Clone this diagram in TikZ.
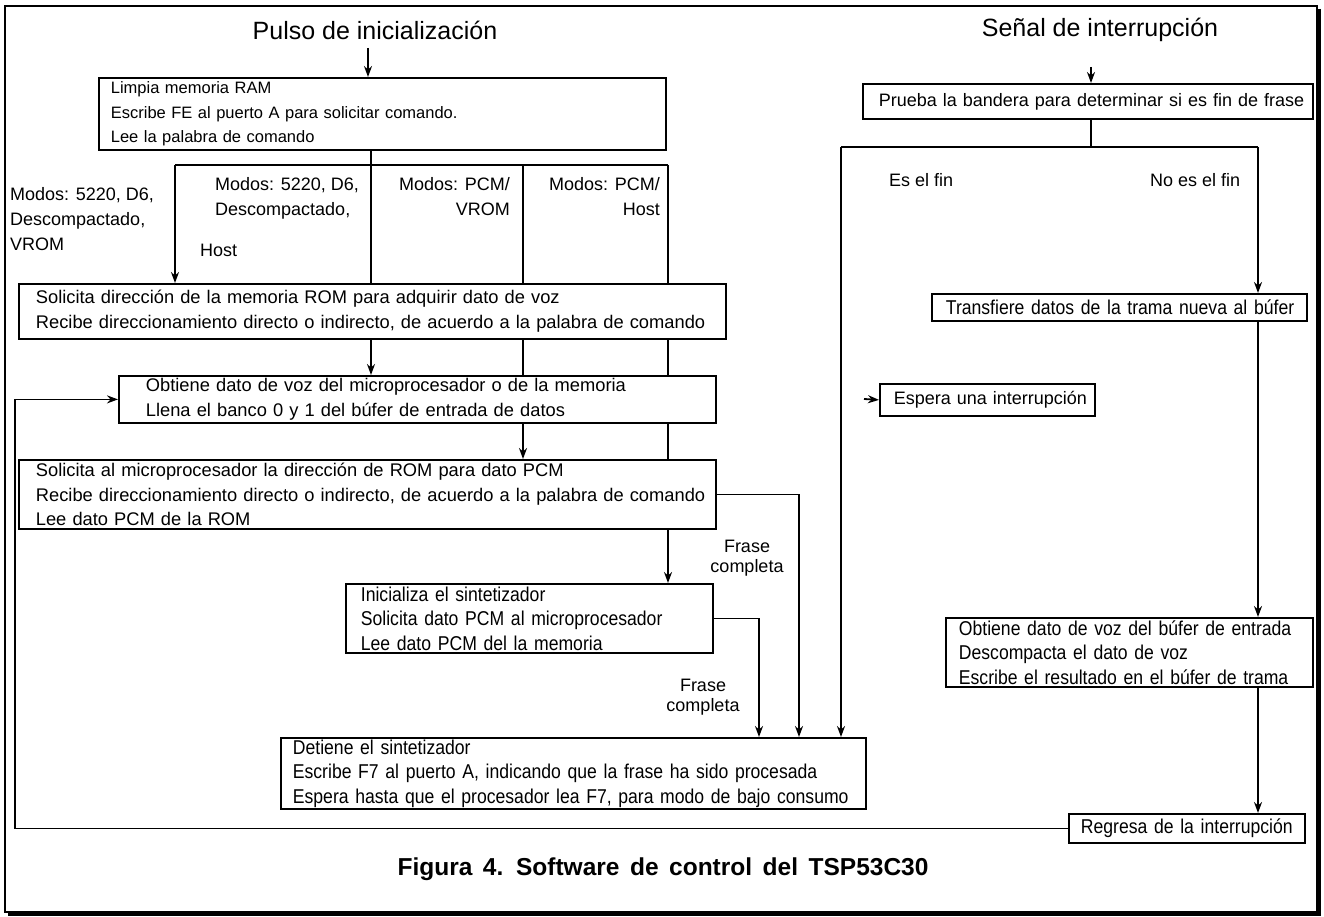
\documentclass[tikz,border=0pt]{standalone}
\usepackage{fontspec}
\setmainfont{Liberation Sans}
\newfontfamily\narrowsf[FakeStretch=0.88]{Liberation Sans}
\usetikzlibrary{positioning, arrows.meta}
\tikzset{
    box/.style={draw, line width=1.8pt, anchor=north west, align=left, inner xsep=0pt, inner ysep=0pt, font=\fontsize{18.3}{24.5}\selectfont},
    narrowbox/.style={box, font=\narrowsf\fontsize{20}{24.5}\selectfont},
    pad/.style={execute at begin node={\leftskip=#1\relax}},
    lbl/.style={inner sep=0pt, align=left, font=\fontsize{18}{25}\selectfont},
    ttl/.style={inner sep=0pt, font=\fontsize{25}{30}\selectfont},
    ln/.style={line width=1.8pt},
    arr/.style={ln, -{Stealth[length=11pt, width=8pt]}}
}

\begin{document}
\begin{tikzpicture}[x=1pt, y=-1pt]
    \useasboundingbox (0,0) rectangle (1324,917);
    % frame with shadow
    \draw[line width=1.5pt] (5,6) rectangle (1317,912);
    \draw[line width=3.5pt] (1319.5,9) -- (1319.5,914.5) -- (8,914.5);

    % titles
    \node[ttl] (pulso) at (375,30) {Pulso de inicialización};
    \node[ttl] (senal) at (1100,30) {Señal de interrupción};

    % left column
    \node[box, text width=567pt, minimum height=72pt, pad=12pt, font=\fontsize{16.5}{24.5}\selectfont] (limpia) at (98,77)
        {Limpia memoria RAM\\Escribe FE al puerto A para solicitar comando.\\Lee la palabra de comando};
    \node[box, text width=707pt, minimum height=55pt, pad=17pt] (solicita) at (18,283)
        {Solicita dirección de la memoria ROM para adquirir dato de voz\\Recibe direccionamiento directo o indirecto, de acuerdo a la palabra de comando};
    \node[box, text width=597pt, minimum height=47pt, pad=27pt] (obtiene) at (118,375)
        {Obtiene dato de voz del microprocesador o de la memoria\\Llena el banco 0 y 1 del búfer de entrada de datos};
    \node[box, text width=697pt, minimum height=69pt, pad=17pt] (pcmrom) at (18,459)
        {Solicita al microprocesador la dirección de ROM para dato PCM\\Recibe direccionamiento directo o indirecto, de acuerdo a la palabra de comando\\Lee dato PCM de la ROM};
    \node[narrowbox, text width=367pt, minimum height=69pt, pad=15pt] (inicsint) at (345,583)
        {Inicializa el sintetizador\\Solicita dato PCM al microprocesador\\Lee dato PCM del la memoria};
    \node[narrowbox, text width=585pt, minimum height=71pt, pad=12pt] (detiene) at (280,737)
        {Detiene el sintetizador\\Escribe F7 al puerto A, indicando que la frase ha sido procesada\\Espera hasta que el procesador lea F7, para modo de bajo consumo};

    % right column
    \node[box, text width=450pt, minimum height=35pt, pad=16pt, font=\fontsize{18}{24.5}\selectfont] (prueba) at (862,83)
        {Prueba la bandera para determinar si es fin de frase};
    \node[narrowbox, text width=375pt, minimum height=27pt, pad=14pt] (transf) at (931,293)
        {Transfiere datos de la trama nueva al búfer};
    \node[box, text width=215pt, minimum height=32pt, pad=14pt, font=\fontsize{18}{24.5}\selectfont] (espera) at (879,383)
        {Espera una interrupción};
    \node[narrowbox, text width=367pt, minimum height=69pt, pad=13pt] (obtbuf) at (945,617)
        {Obtiene dato de voz del búfer de entrada\\Descompacta el dato de voz\\Escribe el resultado en el búfer de trama};
    \node[narrowbox, text width=236pt, minimum height=29pt, pad=12pt] (regresa) at (1068,813)
        {Regresa de la interrupción};

    % branch labels
    \node[lbl, anchor=north west] (modosA) at (10,187) {Modos: 5220, D6,\\Descompactado,\\VROM};
    \node[lbl, anchor=north west] (modosB) at (215,177) {Modos: 5220, D6,\\Descompactado,};
    \node[lbl, anchor=west] (hostB) at (200,250) {Host};
    \node[lbl, anchor=north east, align=right] (modosC) at (510,177) {Modos: PCM/\\VROM};
    \node[lbl, anchor=north east, align=right] (modosD) at (660,177) {Modos: PCM/\\Host};
    \node[lbl, align=center, font=\fontsize{18}{20}\selectfont] (frase1) at (747,558) {Frase\\completa};
    \node[lbl, align=center, font=\fontsize{18}{20}\selectfont] (frase2) at (703,697) {Frase\\completa};
    \node[lbl, anchor=west] (esfin) at (889,180) {Es el fin};
    \node[lbl, anchor=west] (noesfin) at (1150,180) {No es el fin};

    % caption
    \node[inner sep=0pt, font=\bfseries\fontsize{24.5}{28}\selectfont\spaceskip 10.5pt\relax] (caption) at (663,869)
        {Figura 4. Software de control del TSP53C30};

    % helper points
    \coordinate (pin) at (368,48);
    \coordinate (b1) at (175,165);
    \coordinate (b2) at (371,165);
    \coordinate (b3) at (523,165);
    \coordinate (b4) at (668,165);
    \coordinate (fa) at (759,700);
    \coordinate (fb) at (799,700);
    \coordinate (sin) at (1091,67);
    \coordinate (rj) at (1091,147);
    \coordinate (rl) at (841,147);
    \coordinate (rr) at (1258,147);
    \coordinate (ein) at (864,399);
    \coordinate (lp) at (15,600);

    % connectors, left
    \draw[arr] (pin) -- (pin |- limpia.north);
    \draw[ln] (limpia.south -| b2) -- (b2);
    \draw[ln] (b1) -- (b4);
    \draw[arr] (b1) -- (b1 |- solicita.north);
    \foreach \c in {b2, b3, b4}
        \draw[ln] (\c) -- (\c |- solicita.north);
    \draw[arr] (solicita.south -| b2) -- (b2 |- obtiene.north);
    \draw[ln] (solicita.south -| b3) -- (b3 |- obtiene.north);
    \draw[ln] (solicita.south -| b4) -- (b4 |- obtiene.north);
    \draw[arr] (obtiene.south -| b3) -- (b3 |- pcmrom.north);
    \draw[ln] (obtiene.south -| b4) -- (b4 |- pcmrom.north);
    \draw[arr] (pcmrom.south -| b4) -- (b4 |- inicsint.north);
    \draw[arr] (pcmrom.east) -| (fb |- detiene.north);
    \draw[arr] (inicsint.east) -| (fa |- detiene.north);

    % connectors, right
    \draw[arr] (sin) -- (sin |- prueba.north);
    \draw[ln] (prueba.south -| rj) -- (rj);
    \draw[ln] (rl) -- (rr);
    \draw[arr] (rl) -- (rl |- detiene.north);
    \draw[arr] (rr) -- (rr |- transf.north);
    \draw[arr] (transf.south -| rr) -- (rr |- obtbuf.north);
    \draw[arr] (obtbuf.south -| rr) -- (rr |- regresa.north);
    \draw[arr] (ein) -- (espera.west);
    \draw[arr] (regresa.west) -- (regresa.west -| lp) |- (obtiene.west);
\end{tikzpicture}
\end{document}
